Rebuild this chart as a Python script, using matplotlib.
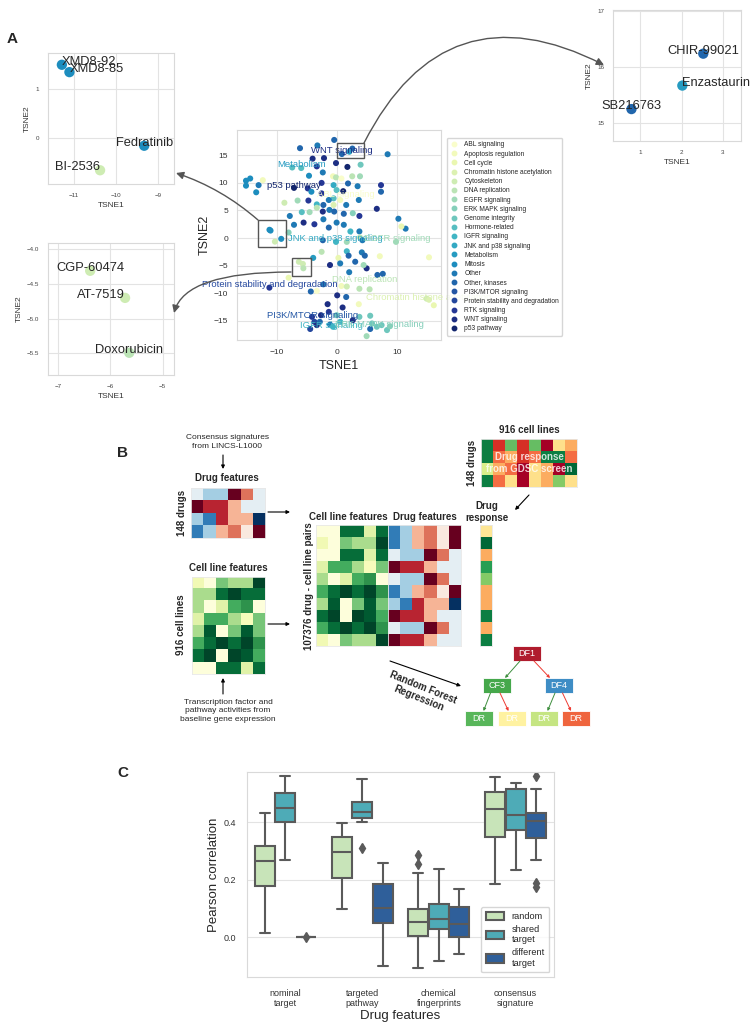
import numpy as np
import matplotlib
matplotlib.use("Agg")
import matplotlib.pyplot as plt
import seaborn as sns
from matplotlib.patches import Rectangle, FancyArrowPatch, Patch
from matplotlib.lines import Line2D

# ---------------------------------------------------------------- data
categories = ["ABL signaling", "Apoptosis regulation", "Cell cycle",
              "Chromatin histone acetylation", "Cytoskeleton", "DNA replication",
              "EGFR signaling", "ERK MAPK signaling", "Genome integrity",
              "Hormone-related", "IGFR signaling", "JNK and p38 signaling",
              "Metabolism", "Mitosis", "Other", "Other, kinases",
              "PI3K/MTOR signaling", "Protein stability and degradation",
              "RTK signaling", "WNT signaling", "p53 pathway"]

tsne_x = [-6.2, -3.3, -0.5, -4.1, -2.2, -3.4, -0.2, 1.7, 3.9, 8.4, -2.4, -4.7, -6.0, -7.5,
          -15.2, -14.5, -15.2, -13.1, -13.5, -12.4, -7.2, -4.9, -4.3, -2.6, -0.7, -0.2, 0.7,
          2.5, 3.8, 1.8, 3.4, 7.3, 7.3, -0.6, -0.1, 1.0, -2.6, -0.6, -1.4, -4.8, -6.6, -8.8,
          -3.4, -3.4, -2.3, -0.6, 0.5, 1.5, 3.6, 6.6, -7.9, -5.9, -4.6, -2.4, -1.3, -0.5, 1.1,
          2.6, 3.7, -2.3, -5.6, -7.2, -3.8, -1.4, -0.1, 1.1, 2.2, 3.7, -8.1, 10.2, 11.4, 10.7,
          9.8, -2.4, -0.2, 1.6, 3.8, 4.2, 1.6, -2.6, 1.9, 4.1, 4.6, 7.1, 15.3, -4.0, 0.2, -1.2,
          0.5, 3.0, 4.9, 4.4, 2.0, 6.7, 7.6, -8.1, -2.3, 0.7, -3.4, -11.3, -4.4, 3.7, 5.4, 0.0,
          1.5, 1.6, 14.9, 15.3, 16.1, 3.6, -1.6, 0.9, -1.4, -2.7, -0.1, -4.2, -3.8, -3.4, -1.2,
          -0.7, -4.5, 0.5, 2.6, 3.7, 5.5, 5.8, 5.5, 6.6, 7.4, 8.3, 8.8, 4.9, -2.9]
tsne_y = [16.3, 16.8, 17.8, 14.4, 14.5, 13.0, 13.6, 12.9, 13.3, 15.2, 11.9, 11.3, 12.7, 12.8,
          10.4, 10.8, 9.5, 9.6, 8.3, 10.5, 9.1, 9.0, 8.4, 10.0, 11.2, 11.0, 10.8,
          11.2, 11.2, 9.9, 9.4, 9.6, 8.4, 9.6, 8.7, 8.5, 8.1, 7.2, 6.9, 6.8, 6.8, 6.4,
          6.1, 5.5, 6.0, 6.0, 6.9, 6.0, 6.9, 5.3, 4.0, 4.7, 4.7, 4.8, 5.1, 4.8, 4.4,
          4.5, 4.0, 3.4, 2.8, 2.4, 2.5, 1.9, 2.8, 2.4, 1.2, 1.2, 1.0, 3.5, 1.7, 2.1,
          -0.7, -0.4, -0.7, -0.7, 0.1, -0.4, -2.4, -2.5, -3.2, -2.6, -3.2, -3.3, -3.5, -3.6, -3.6, -4.9,
          -4.6, -4.3, -5.5, -4.9, -6.2, -6.7, -6.5, -7.2, -8.4, -8.7, -9.6, -9.0, -9.7, -9.2, -9.3, -10.4,
          -10.7, -8.8, -11.0, -11.2, -12.2, -12.0, -12.0, -12.6, -13.4, -14.0, -14.0, -14.3, -15.2, -15.8, -15.7,
          -16.1, -16.5, -15.2, -14.9, -14.3, -14.1, -15.5, -16.5, -16.1, -15.8, -16.7, -16.0, -17.8, -15.2]
tsne_cat = [15, 14, 15, 19, 19, 18, 19, 20, 8, 14, 14, 13, 9, 9,
            13, 13, 13, 14, 13, 1, 20, 18, 13, 18, 1, 5, 0,
            5, 6, 15, 14, 18, 15, 11, 9, 20, 18, 9, 14, 18, 6, 4,
            10, 5, 15, 3, 1, 14, 14, 19, 14, 9, 6, 19, 14, 15, 15,
            7, 18, 14, 19, 14, 18, 15, 14, 14, 10, 14, 7, 14, 14, 2,
            6, 15, 10, 6, 5, 14, 10, 5, 15, 14, 15, 1, 1, 12, 2, 19,
            14, 15, 19, 6, 14, 15, 15, 2, 14, 1, 0, 18, 15, 5, 5, 19,
            15, 4, 4, 3, 2, 1, 19, 19, 18, 19, 8, 18, 17, 19, 14,
            10, 17, 10, 19, 8, 8, 8, 15, 8, 8, 8, 7, 6, 15]

# highlighted drugs shown in the zoom-in panels
hl_names = ["XMD8-92", "XMD8-85", "Fedratinib", "BI-2536", "CGP-60474", "AT-7519",
            "Doxorubicin", "CHIR-99021", "Enzastaurin", "SB216763"]
hl_x = [-11.29, -11.11, -9.33, -10.38, -6.39, -5.72, -5.64, 2.53, 2.02, 0.78]
hl_y = [1.50, 1.35, -0.15, -0.65, -4.31, -4.70, -5.49, 16.23, 15.66, 15.24]
hl_cat = [13, 13, 13, 4, 4, 4, 5, 15, 12, 15]
hl_ha = ["left", "left", "center", "right", "center", "right", "center", "center", "left", "center"]

# category labels drawn in the t-SNE map
ann_text = ["WNT signaling", "Metabolism", "p53 pathway", "ABL signaling",
            "JNK and p38 signaling", "EGFR signaling", "DNA replication",
            "Chromatin histone acetylation", "Protein stability and degradation",
            "PI3K/MTOR signaling", "IGFR signaling", "ERK MAPK signaling"]
ann_x = [0.85, -5.9, -7.3, 1.5, -0.3, 10.0, 4.6, 15.3, -11.2, -4.1, -0.9, 7.0]
ann_y = [15.9, 13.3, 9.5, 7.9, 0.0, 0.0, -7.5, -10.8, -8.4, -14.0, -15.8, -15.6]

# panel B schematic heatmaps (colormap values 0..1)
drug_feat = [[0.45, 0.33, 0.33, 1.00, 0.77, 0.45],
             [1.00, 0.88, 0.88, 0.67, 0.45, 0.45],
             [0.33, 0.15, 0.88, 0.67, 0.67, 0.00],
             [0.15, 0.33, 0.67, 0.77, 0.55, 1.00]]
cell_feat = [[0.15, 0.03, 0.50, 0.38, 0.38, 1.00],
             [0.38, 0.38, 0.85, 1.00, 0.85, 0.85],
             [0.38, 0.03, 0.22, 0.62, 0.70, 0.03],
             [0.22, 0.62, 0.62, 0.38, 0.12, 0.50],
             [0.38, 0.92, 0.03, 0.50, 0.92, 0.50],
             [0.62, 0.85, 1.00, 0.85, 1.00, 0.70],
             [0.85, 1.00, 0.03, 1.00, 0.92, 0.62],
             [0.03, 0.03, 0.85, 0.85, 0.22, 0.85]]
pair_cell_rows = [7, 0, 7, 3, 2, 5, 4, 6, 5, 0]
pair_drug_rows = [3, 3, 0, 1, 0, 3, 2, 1, 0, 1]
drug_resp = [0.42, 1.00, 0.30, 0.88, 0.75, 0.30, 0.30, 0.95, 0.30, 0.95]
gdsc = [[0.95, 0.10, 0.80, 0.10, 0.80, 0.00, 0.40, 0.30],
        [0.95, 0.20, 0.30, 0.10, 0.20, 0.95, 0.95, 0.20],
        [0.60, 0.30, 0.20, 0.00, 0.40, 0.30, 0.00, 1.00],
        [0.95, 0.20, 0.40, 0.00, 0.40, 0.30, 0.75, 0.40]]

# panel C box statistics
groups = ["nominal\ntarget", "targeted\npathway", "chemical\nfingerprints", "consensus\nsignature"]
hues = ["random", "shared\ntarget", "different\ntarget"]
c_whislo = [[0.014, 0.269, 0.0], [0.097, 0.402, -0.099], [-0.106, -0.081, -0.058], [0.184, 0.234, 0.269]]
c_q1 = [[0.180, 0.400, 0.0], [0.205, 0.414, 0.049], [0.006, 0.028, 0.002], [0.350, 0.373, 0.347]]
c_med = [[0.267, 0.449, 0.0], [0.296, 0.437, 0.103], [0.054, 0.064, 0.046], [0.446, 0.426, 0.406]]
c_q3 = [[0.318, 0.503, 0.0], [0.350, 0.471, 0.186], [0.099, 0.116, 0.107], [0.507, 0.516, 0.431]]
c_whishi = [[0.434, 0.561, 0.0], [0.397, 0.550, 0.260], [0.225, 0.237, 0.167], [0.557, 0.536, 0.516]]
c_fliers = [[[], [], [0.0]], [[], [0.312], []], [[0.286, 0.255], [], []], [[], [], [0.561, 0.190, 0.176]]]

# ---------------------------------------------------------------- style
sns.set_style("whitegrid")
plt.rcParams['font.family'] = ['Liberation Sans', 'DejaVu Sans']
plt.rcParams['grid.color'] = '#e3e3e3'
plt.rcParams['axes.edgecolor'] = '#d9d9d9'

W, H = 756, 1027
fig = plt.figure(figsize=(W / 100, H / 100), dpi=100)


def px_axes(x0, y0, x1, y1, **kw):
    return fig.add_axes([x0 / W, 1 - y1 / H, (x1 - x0) / W, (y1 - y0) / H], **kw)


pal = sns.color_palette("YlGnBu", len(categories))
GRAY = '#5a5a5a'

# ---------------------------------------------------------------- panel A main
ax = px_axes(237, 130, 441, 340)
ax.scatter(tsne_x, tsne_y, c=[pal[c] for c in tsne_cat], s=19, lw=0, zorder=3)
ax.scatter(hl_x, hl_y, c=[pal[c] for c in hl_cat], s=19, lw=0, zorder=3)
ax.set_xlim(-16.7, 17.3)
ax.set_ylim(-18.5, 19.6)
ax.set_xticks([-10, 0, 10])
ax.set_yticks([-15, -10, -5, 0, 5, 10, 15])
ax.tick_params(labelsize=6, pad=3, colors='#333333')
ax.set_xlabel("TSNE1", fontsize=9, labelpad=3)
ax.set_ylabel("TSNE2", fontsize=9, labelpad=2)
for t, x, y in zip(ann_text, ann_x, ann_y):
    ax.text(x, y, t, color=pal[categories.index(t)], fontsize=6.8, ha='center', va='center', zorder=4)
zoom_boxes = [(-13.2, -8.6, -1.6, 3.2), (-7.6, -4.3, -6.85, -3.6), (-0.05, 4.4, 14.5, 17.2)]
for (x0, x1, y0, y1) in zoom_boxes:
    ax.add_patch(Rectangle((x0, y0), x1 - x0, y1 - y0, fill=False, ec='#555555', lw=1, zorder=5))
handles = [Line2D([], [], marker='o', ls='', mfc=pal[i], mec=pal[i], markersize=3.2) for i in range(len(categories))]
ax.legend(handles, categories, loc='upper left', bbox_to_anchor=(447 / W, 1 - 138 / H),
          bbox_transform=fig.transFigure, fontsize=4.8, labelspacing=0.33, handletextpad=0.9,
          borderpad=0.5, borderaxespad=0, handlelength=1.2, frameon=True)

# ---------------------------------------------------------------- zoom insets


def inset(rect, idx, xlim, ylim, xt, yt):
    a = px_axes(*rect)
    a.scatter([hl_x[i] for i in idx], [hl_y[i] for i in idx], c=[pal[hl_cat[i]] for i in idx], s=55, lw=0, zorder=3)
    for i in idx:
        a.annotate(hl_names[i], (hl_x[i], hl_y[i]), xytext=(0, 0), textcoords='offset points',
                   ha=hl_ha[i], va='baseline', fontsize=9.3, zorder=4)
    a.set_xlim(*xlim)
    a.set_ylim(*ylim)
    a.set_xticks(xt)
    a.set_yticks(yt)
    a.tick_params(labelsize=4.5, pad=3, colors='#444444')
    a.set_xlabel("TSNE1", fontsize=6, labelpad=3, color='#333333')
    a.set_ylabel("TSNE2", fontsize=6, labelpad=3, color='#333333')
    return a


inset((48, 53, 174, 184), [0, 1, 2, 3], (-11.62, -8.62), (-0.93, 1.74), [-11, -10, -9], [0, 1])
inset((48, 243, 174, 375), [4, 5, 6], (-7.2, -4.78), (-5.81, -3.91), [-7, -6, -5], [-5.5, -5.0, -4.5, -4.0])
inset((613, 10, 741, 141), [7, 8, 9], (0.33, 3.45), (14.67, 17.01), [1, 2, 3], [15, 16, 17])

# ---------------------------------------------------------------- panel B heatmaps


def heat(x0, y0, x1, y1, data, cmap):
    a = px_axes(x0, y0, x1, y1)
    a.imshow(np.array(data), cmap=cmap, vmin=0, vmax=1, aspect='auto', interpolation='nearest')
    a.set_xticks([])
    a.set_yticks([])
    a.grid(False)
    for s in a.spines.values():
        s.set_color('#e8e8e8')
        s.set_linewidth(0.6)
    return a


heat(191, 488, 265, 538, drug_feat, 'RdBu_r')
heat(192, 577, 265, 674, cell_feat, 'YlGn')
heat(316, 525, 388, 646, [cell_feat[r] for r in pair_cell_rows], 'YlGn')
heat(388, 525, 461, 646, [drug_feat[r] for r in pair_drug_rows], 'RdBu_r')
heat(480, 525, 492, 646, [[v] for v in drug_resp], 'RdYlGn')
heat(481, 439, 577, 487, gdsc, 'RdYlGn')

# ---------------------------------------------------------------- panel C
axc = px_axes(247, 772, 554, 977)
box_cols = [sns.desaturate(c, 0.8) for c in sns.color_palette("YlGnBu", 3)]
offs = [-0.267, 0.0, 0.267]
for g in range(len(groups)):
    for h in range(len(hues)):
        st = dict(med=c_med[g][h], q1=c_q1[g][h], q3=c_q3[g][h], whislo=c_whislo[g][h],
                  whishi=c_whishi[g][h], fliers=c_fliers[g][h])
        axc.bxp([st], positions=[g + offs[h]], widths=0.262, patch_artist=True, manage_ticks=False,
                boxprops=dict(facecolor=box_cols[h], edgecolor=GRAY, lw=1.5),
                medianprops=dict(color=GRAY, lw=1.5),
                whiskerprops=dict(color=GRAY, lw=1.5),
                capprops=dict(color=GRAY, lw=1.5),
                flierprops=dict(marker='d', mfc=GRAY, mec=GRAY, markersize=5.5))
axc.set_xlim(-0.5, 3.5)
axc.set_ylim(-0.138, 0.575)
axc.set_xticks(range(len(groups)))
axc.set_xticklabels(groups, fontsize=6.5, linespacing=1.1)
axc.set_yticks([0.0, 0.2, 0.4])
axc.set_yticklabels(["0.0", "0.2", "0.4"], fontsize=6.5)
axc.tick_params(axis='x', pad=5, colors='#333333')
axc.tick_params(axis='y', pad=4, colors='#333333')
axc.grid(axis='x', visible=False)
axc.set_xlabel("Drug features", fontsize=9.5, labelpad=2)
axc.set_ylabel("Pearson correlation", fontsize=9.5, labelpad=3)
axc.legend([Patch(facecolor=box_cols[i], edgecolor=GRAY, lw=1.5) for i in range(3)], hues,
           loc='lower right', fontsize=6.6, labelspacing=0.45, handlelength=2.0, handleheight=1.0,
           borderpad=0.5, handletextpad=0.8)

# ---------------------------------------------------------------- overlay (labels, arrows)
ov = fig.add_axes([0, 0, 1, 1], zorder=10)
ov.set_xlim(0, W)
ov.set_ylim(H, 0)
ov.axis('off')
ov.patch.set_alpha(0)

for lab, (x, y) in {"A": (12, 39), "B": (123, 453), "C": (123, 773)}.items():
    ov.text(x, y, lab, fontsize=11, fontweight='bold', ha='center', va='center')


def arrow(p0, p1, cs='arc3,rad=0', color='#555555', lw=1.0, ms=11, style='-|>'):
    ov.add_patch(FancyArrowPatch(p0, p1, connectionstyle=cs, arrowstyle=style, mutation_scale=ms,
                                 color=color, lw=lw, shrinkA=0, shrinkB=0))


arrow((258, 220), (176, 173), 'arc3,rad=0.1')
arrow((291, 272), (174, 313), 'angle3,angleA=0,angleB=75')
arrow((364, 143), (604, 65), 'arc3,rad=-0.5')

# panel B text and arrows
bt = dict(fontsize=7, fontweight='bold', ha='center', va='center')
ov.text(227, 442, "Consensus signatures\nfrom LINCS-L1000", fontsize=6, ha='center', va='center', linespacing=1.25)
arrow((223, 455), (223, 469), ms=5, color='black', lw=0.8)
ov.text(227, 478, "Drug features", **bt)
ov.text(182, 513, "148 drugs", rotation=90, **bt)
arrow((268, 512), (290, 512), ms=5, color='black', lw=0.8)
ov.text(228, 568, "Cell line features", **bt)
ov.text(181, 625, "916 cell lines", rotation=90, **bt)
arrow((268, 624), (290, 624), ms=5, color='black', lw=0.8)
arrow((223, 694), (223, 678), ms=5, color='black', lw=0.8)
ov.text(228, 711, "Transcription factor and\npathway activities from\nbaseline gene expression",
        fontsize=6, ha='center', va='center', linespacing=1.25)
ov.text(348, 517, "Cell line features", **bt)
ov.text(425, 517, "Drug features", **bt)
ov.text(309, 586, "107376 drug - cell line pairs", rotation=90, **bt)
ov.text(487, 512, "Drug\nresponse", linespacing=1.2, **bt)
ov.text(529, 430, "916 cell lines", **bt)
ov.text(472, 463, "148 drugs", rotation=90, **bt)
ov.text(529, 463, "Drug response\nfrom GDSC screen", fontsize=7, fontweight='bold', ha='center', va='center',
        color='white', alpha=0.8, linespacing=1.2)
arrow((529, 495), (515, 510), ms=5, color='black', lw=0.8)
arrow((390, 661), (461, 686), ms=5, color='black', lw=0.8)
ov.text(421, 693, "Random Forest\nRegression", rotation=-22, linespacing=1.2, **bt)

# decision tree
tree_boxes = [("DF1", 513, 646, '#b01c2e'), ("CF3", 483, 678, '#45a84b'), ("DF4", 545, 678, '#3e8dc5'),
              ("DR", 465, 711, '#58b65a'), ("DR", 498, 711, '#fff2a1'), ("DR", 530, 711, '#c5e582'),
              ("DR", 562, 711, '#ef653e')]
for txt, x, y, col in tree_boxes:
    ov.add_patch(Rectangle((x, y), 28, 15, facecolor=col, edgecolor='white', lw=0.6))
    ov.text(x + 14, y + 7.5, txt, color='white', fontsize=6.5, ha='center', va='center')
G, R = '#3f8f3f', '#ee3b33'
arrow((520, 661), (505, 678), color=G, lw=0.7, ms=4)
arrow((534, 661), (550, 678), color=R, lw=0.7, ms=4)
arrow((490.5, 693), (483.5, 711), color=G, lw=0.7, ms=4)
arrow((500, 693), (508.5, 711), color=R, lw=0.7, ms=4)
arrow((555, 693), (547.5, 711), color=G, lw=0.7, ms=4)
arrow((562.5, 693), (571, 711), color=R, lw=0.7, ms=4)

fig.savefig("out.png", dpi=100)
